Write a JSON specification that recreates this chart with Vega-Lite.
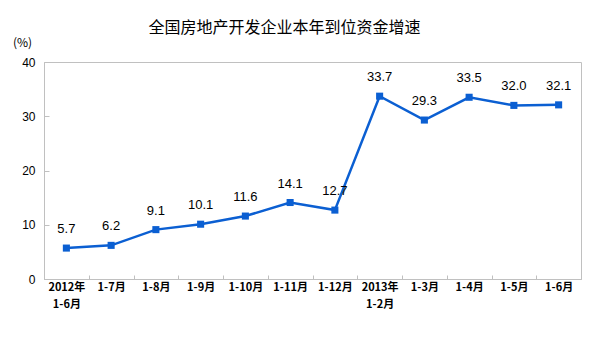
{
  "$schema": "https://vega.github.io/schema/vega-lite/v6.json",
  "autosize": "none",
  "width": 537,
  "height": 217,
  "padding": {"left": 44, "top": 62, "right": 19, "bottom": 82},
  "background": "white",
  "config": {
    "view": {"stroke": "#c0c0c0", "strokeWidth": 1},
    "font": "Liberation Sans"
  },
  "title": {
    "text": "全国房地产开发企业本年到位资金增速",
    "font": "Noto Sans CJK SC",
    "fontSize": 16,
    "fontWeight": "normal",
    "color": "#000000",
    "anchor": "start",
    "dx": 136,
    "offset": 0
  },
  "data": {
    "values": [
      {"period": "2012年|1-6月", "value": 5.7},
      {"period": "1-7月", "value": 6.2},
      {"period": "1-8月", "value": 9.1},
      {"period": "1-9月", "value": 10.1},
      {"period": "1-10月", "value": 11.6},
      {"period": "1-11月", "value": 14.1},
      {"period": "1-12月", "value": 12.7},
      {"period": "2013年|1-2月", "value": 33.7},
      {"period": "1-3月", "value": 29.3},
      {"period": "1-4月", "value": 33.5},
      {"period": "1-5月", "value": 32.0},
      {"period": "1-6月", "value": 32.1}
    ]
  },
  "encoding": {
    "x": {
      "field": "period",
      "type": "nominal",
      "sort": null,
      "scale": {"paddingInner": 0, "paddingOuter": 0},
      "axis": {
        "title": null,
        "labelAngle": 0,
        "labelExpr": "split(datum.label, '|')",
        "labelFont": "Noto Sans CJK SC",
        "labelFontSize": 11,
        "labelFontWeight": "bold",
        "labelColor": "#000000",
        "labelLineHeight": 17,
        "labelPadding": 6,
        "labelBaseline": "top",
        "tickBand": "extent",
        "tickSize": -4,
        "tickColor": "#c0c0c0",
        "domainColor": "#c0c0c0",
        "grid": false
      }
    },
    "y": {
      "field": "value",
      "type": "quantitative",
      "scale": {"domain": [0, 40]},
      "axis": {
        "title": "(%)",
        "titleAngle": 0,
        "titleX": -22,
        "titleY": -20,
        "titleAlign": "center",
        "titleBaseline": "middle",
        "titleFont": "Noto Sans CJK SC",
        "titleFontSize": 12,
        "titleFontWeight": "normal",
        "titleColor": "#000000",
        "values": [0, 10, 20, 30, 40],
        "labelFontSize": 12,
        "labelColor": "#000000",
        "labelPadding": 14,
        "tickSize": -5,
        "tickColor": "#c0c0c0",
        "domainColor": "#c0c0c0",
        "grid": false
      }
    }
  },
  "layer": [
    {
      "mark": {"type": "line", "color": "#0b5fd2", "strokeWidth": 2.5}
    },
    {
      "mark": {"type": "point", "shape": "square", "filled": true, "size": 50, "color": "#0b5fd2", "opacity": 1}
    },
    {
      "mark": {"type": "text", "dy": -19, "fontSize": 13, "color": "#000000", "baseline": "middle"},
      "encoding": {"text": {"field": "value", "type": "quantitative", "format": ".1f"}}
    }
  ]
}
